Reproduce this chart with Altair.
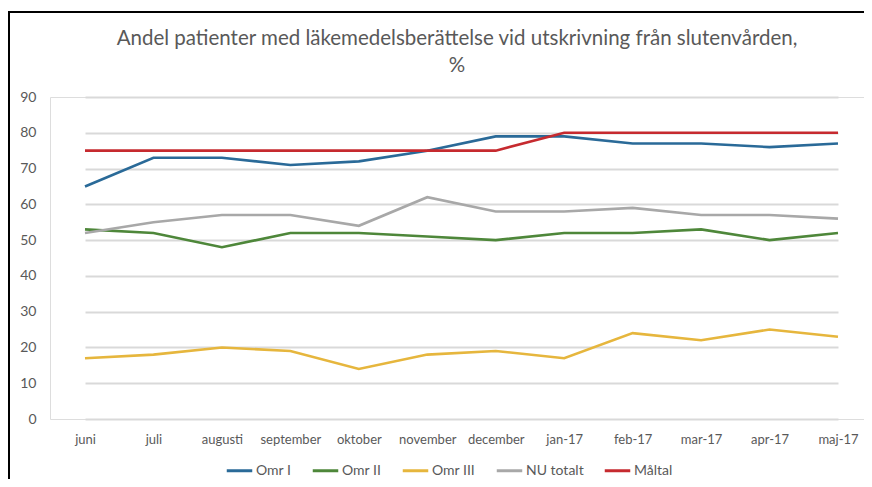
import altair as alt
import pandas as pd

months = ["juni", "juli", "augusti", "september", "oktober", "november",
          "december", "jan-17", "feb-17", "mar-17", "apr-17", "maj-17"]
series_names = ["Omr I", "Omr II", "Omr III", "NU totalt", "Måltal"]
omr1 = [65, 73, 73, 71, 72, 75, 79, 79, 77, 77, 76, 77]
omr2 = [53, 52, 48, 52, 52, 51, 50, 52, 52, 53, 50, 52]
omr3 = [17, 18, 20, 19, 14, 18, 19, 17, 24, 22, 25, 23]
nu_totalt = [52, 55, 57, 57, 54, 62, 58, 58, 59, 57, 57, 56]
maltal = [75, 75, 75, 75, 75, 75, 75, 80, 80, 80, 80, 80]
colors = ["#2a6a98", "#4e873a", "#e6b63d", "#a8a8a8", "#c62a2f"]
y_ticks = [0, 10, 20, 30, 40, 50, 60, 70, 80, 90]

rows = []
for name, vals in zip(series_names, [omr1, omr2, omr3, nu_totalt, maltal]):
    for m, v in zip(months, vals):
        rows.append({"Månad": m, "Serie": name, "Värde": v,
                     "ordning": series_names.index(name)})
df = pd.DataFrame(rows)

FONT = "Lato"
GRAY = "#595959"

lines = alt.Chart(df).mark_line(strokeWidth=2.6).encode(
    x=alt.X("Månad:N", sort=months,
            scale=alt.Scale(type="point", padding=0, range=[35, 788]),
            axis=alt.Axis(title=None, labelAngle=0, ticks=False, domain=False,
                          grid=False, labelPadding=14, labelFontSize=13,
                          labelColor=GRAY, labelFont=FONT)),
    y=alt.Y("Värde:Q", scale=alt.Scale(domain=[0, 90], nice=False),
            axis=alt.Axis(title=None, values=y_ticks, ticks=False, domain=False,
                          gridColor="#d9d9d9", gridWidth=2, labelPadding=14,
                          labelFontSize=14, labelColor=GRAY, labelFont=FONT)),
    color=alt.Color("Serie:N", sort=series_names,
                    scale=alt.Scale(domain=series_names, range=colors),
                    legend=alt.Legend(title=None, orient="none",
                                      legendX=175, legendY=359,
                                      direction="horizontal", symbolType="stroke",
                                      symbolSize=650, symbolStrokeWidth=3,
                                      labelFontSize=14, labelColor=GRAY,
                                      labelFont=FONT, labelOffset=2,
                                      columnPadding=14, symbolOffset=0)),
    order=alt.Order("ordning:Q"),
)

frame_left = alt.Chart(df).mark_rule(color="#000000", strokeWidth=2, clip=False).encode(
    x=alt.value(-41), y=alt.value(-85), y2=alt.value(400))
frame_top = alt.Chart(df).mark_rule(color="#000000", strokeWidth=2, clip=False).encode(
    x=alt.value(-42), x2=alt.value(830), y=alt.value(-85))

chart = alt.layer(frame_left, frame_top, lines).properties(
    width=814, height=322,
    title=alt.TitleParams(
        text=["Andel patienter med läkemedelsberättelse vid utskrivning från slutenvården,", "%"],
        fontSize=20.5, font=FONT, fontWeight="normal", color=GRAY,
        anchor="middle", frame="group", offset=-65, lineHeight=27),
    autosize=alt.AutoSizeParams(type="none"),
    padding={"left": 42, "top": 89, "right": 0, "bottom": 60},
).configure_view(stroke=None).configure(background="white")

chart.save("out.html", embed_options={"renderer": "svg", "actions": False})
